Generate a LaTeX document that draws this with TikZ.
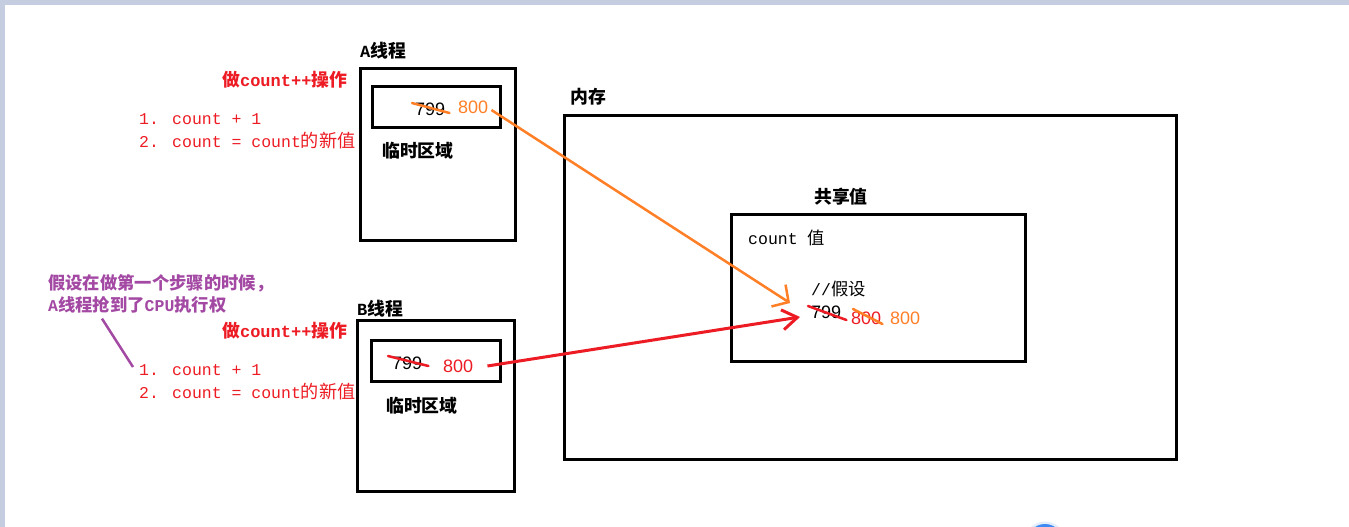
\documentclass[tikz,border=0pt]{standalone}
\usepackage{fontspec}
\setmainfont{Liberation Mono}
\setsansfont{Liberation Sans}
\newfontfamily\cjk[Scale=1.05]{Noto Sans CJK SC}
\newfontfamily\cjkwide[Scale=1.1]{Noto Sans CJK SC}
\newcommand\zhtxt[1]{{\cjk #1}}
\newcommand\zhwide[1]{{\cjkwide #1}}
\usetikzlibrary{arrows.meta}
\definecolor{paintred}{HTML}{ED1C24}
\definecolor{paintorange}{HTML}{FF7F27}
\definecolor{paintpurple}{HTML}{A349A4}
\definecolor{framegray}{HTML}{C5CEE0}
\definecolor{dotblue}{HTML}{3D8BF2}

\begin{document}
\begin{tikzpicture}[x=1pt, y=-1pt,
    box/.style={draw, rectangle, line width=3pt, inner sep=0pt},
    txt/.style={anchor=west, inner sep=0pt, font=\fontsize{16.5}{19}\selectfont},
    lbl/.style={anchor=west, inner sep=0pt, font=\fontsize{17}{19}\selectfont\bfseries},
    num/.style={anchor=west, inner sep=0pt, font=\sffamily\fontsize{18}{20}\selectfont},
    strike/.style={line width=2.5pt, line cap=round}]
    % window frame
    \clip (0,0) rectangle (1349,527);
    \fill[framegray] (0,0) rectangle (1349,527);
    \fill[white] (5,5) rectangle (1349,527);
    \fill[dotblue!15] (1045,542) circle (20.5);
    \fill[dotblue] (1045,542) circle (18);

    % A thread (top)
    \node[box, minimum width=155pt, minimum height=171pt] (athread) at (437.5,154.5) {};
    \node[box, minimum width=128pt, minimum height=41pt] (ainner) at (436,106.5) {};
    \node[lbl] (atitle) at (360,51) {A\zhtxt{线程}};
    \node[lbl, text=paintred] (aop) at (222,80) {\zhtxt{做}count++\zhtxt{操作}};
    \node[txt, text=paintred] (astep1) at (139,119) {1. count + 1};
    \node[txt, text=paintred] (astep2) at (139,141) {2. count = count\zhwide{的新值}};
    \node[num] (a799) at (415,109) {799};
    \node[num, text=paintorange] (a800) at (458,107) {800};
    \node[lbl] (atemp) at (382,151) {\zhtxt{临时区域}};

    % B thread (bottom)
    \node[box, minimum width=157pt, minimum height=171pt] (bthread) at (435.5,405.5) {};
    \node[box, minimum width=129pt, minimum height=41pt] (binner) at (435.5,360.5) {};
    \node[lbl] (btitle) at (357,309) {B\zhtxt{线程}};
    \node[lbl, text=paintred] (bop) at (222,331) {\zhtxt{做}count++\zhtxt{操作}};
    \node[txt, text=paintred] (bstep1) at (139,370) {1. count + 1};
    \node[txt, text=paintred] (bstep2) at (139,392) {2. count = count\zhwide{的新值}};
    \node[num] (b799) at (392,363) {799};
    \node[num, text=paintred] (b800) at (443,366) {800};
    \node[lbl] (btemp) at (386,406) {\zhtxt{临时区域}};

    % note
    \node[lbl, text=paintpurple, font=\fontsize{16.5}{18}\selectfont\bfseries] (note1) at (48,283) {\zhtxt{假设在做第一个步骤的时候，}};
    \node[lbl, text=paintpurple, font=\fontsize{16.5}{18}\selectfont\bfseries] (note2) at (48,305) {A\zhtxt{线程抢到了}CPU\zhtxt{执行权}};

    % memory
    \node[box, minimum width=612pt, minimum height=344pt] (mem) at (870,287) {};
    \node[lbl] (memtitle) at (570,97) {\zhtxt{内存}};
    \node[box, minimum width=294pt, minimum height=147pt] (shared) at (878,287.5) {};
    \node[lbl] (sharedtitle) at (814,197) {\zhtxt{共享值}};
    \node[txt] (countval) at (748,238) {count \zhtxt{值}};
    \node[txt] (guess) at (811,289) {//\zhtxt{假设}};
    \node[num] (s799) at (811,312) {799};
    \node[num, text=paintred] (s800r) at (851,318) {800};
    \node[num, text=paintorange] (s800o) at (890,318) {800};

    % strike-outs
    \draw[strike, paintorange] ([xshift=-3pt,yshift=6pt]a799.west) -- ([xshift=4pt,yshift=-4pt]a799.east);
    \draw[strike, paintred] ([xshift=-4pt,yshift=7pt]b799.west) -- ([xshift=6pt,yshift=-3pt]b799.east);
    \draw[strike, paintred] ([xshift=-3pt,yshift=6pt]s799.west) -- ([xshift=5pt,yshift=-8pt]s799.east);
    \draw[strike, paintorange] ([xshift=2pt,yshift=9pt]s800r.west) -- ([xshift=1pt,yshift=-6pt]s800r.east);

    % connections
    \coordinate (ahit) at (790,303);
    \coordinate (bhit) at (800,317);
    \draw[paintorange, line width=2.5pt, -{Straight Barb[length=12pt,width=26pt]}] ([xshift=3pt,yshift=-3pt]a800.east) -- (ahit);
    \draw[paintred, line width=3pt, -{Straight Barb[length=15pt,width=20pt]}] ([xshift=14pt]b800.east) -- (bhit);
    \draw[paintpurple, line width=2.5pt] ([xshift=54pt,yshift=-5pt]note2.south west) -- ([xshift=-6pt,yshift=3pt]bstep1.west);
\end{tikzpicture}
\end{document}
